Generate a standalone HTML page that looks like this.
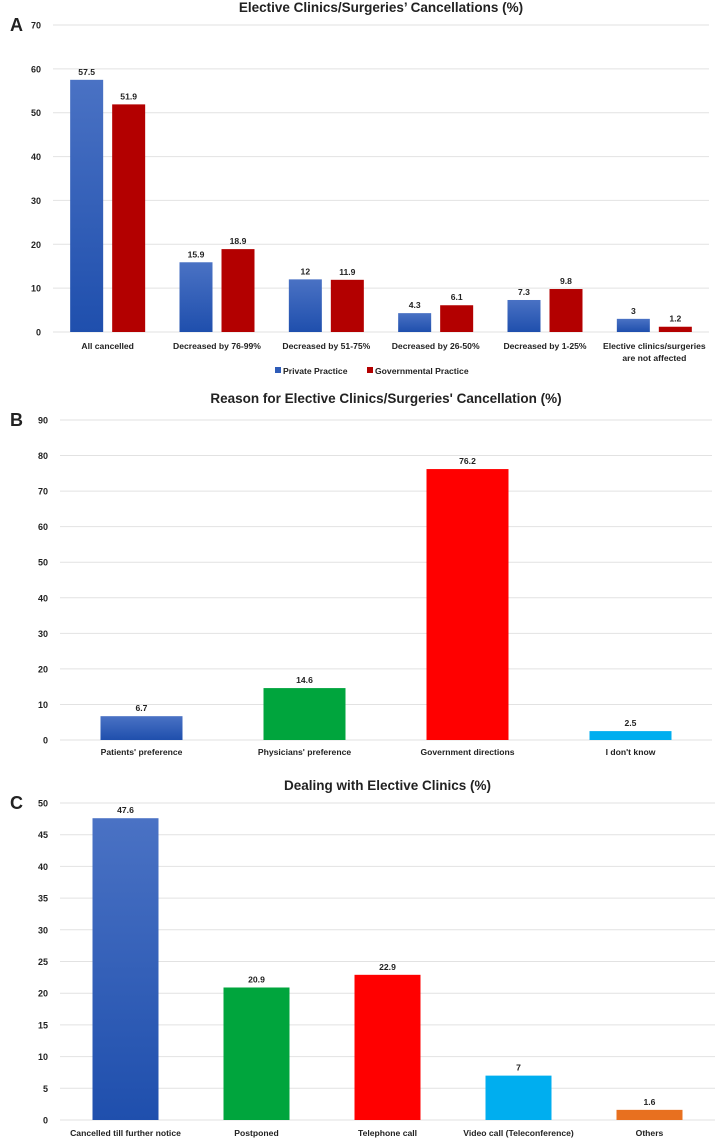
<!DOCTYPE html>
<html><head><meta charset="utf-8"><style>
body{margin:0;background:#fff;}
svg{display:block;font-family:"Liberation Sans",Arial,sans-serif;}
text{font-weight:bold;fill:#222;}
</style></head><body>
<svg id="c" width="716" height="1141" viewBox="0 0 716 1141">
<defs>
<linearGradient id="gb" x1="0" y1="0" x2="0" y2="1"><stop offset="0" stop-color="#4a72c4"/><stop offset="1" stop-color="#1f4fad"/></linearGradient>
</defs>
</svg>
<script>
const NS='http://www.w3.org/2000/svg';
const svg=document.getElementById('c');
function el(t,a,txt){const e=document.createElementNS(NS,t);for(const k in a)e.setAttribute(k,a[k]);if(txt!==undefined)e.textContent=txt;svg.appendChild(e);return e;}

// Panel A data
const catsA=['All cancelled','Decreased by 76-99%','Decreased by 51-75%','Decreased by 26-50%','Decreased by 1-25%','Elective clinics/surgeries|are not affected'];
const privA=[57.5,15.9,12,4.3,7.3,3];
const govA=[51.9,18.9,11.9,6.1,9.8,1.2];
const ticksA=[0,10,20,30,40,50,60,70];
// Panel B data
const catsB=["Patients' preference","Physicians' preference",'Government directions',"I don't know"];
const valsB=[6.7,14.6,76.2,2.5];
const ticksB=[0,10,20,30,40,50,60,70,80,90];
// Panel C data
const catsC=['Cancelled till further notice','Postponed','Telephone call','Video call (Teleconference)','Others'];
const valsC=[47.6,20.9,22.9,7,1.6];
const ticksC=[0,5,10,15,20,25,30,35,40,45,50];

function axes(p,ticks,letter,title,titleY){
  const y=v=>p.y0-(v/p.max)*(p.y0-p.y1);
  let t=el('text',{x:10,y:p.y1+6,'font-size':18,'font-family':'Liberation Sans'},letter);
  
  
  t=el('text',{x:(p.x0+p.x1)/2,y:titleY,'font-size':13.5,'text-anchor':'middle'},title);
  
  
  ticks.forEach(v=>{
    const g=el('line',{x1:p.x0,x2:p.x1,y1:y(v),y2:y(v),stroke:'#e2e2e2','stroke-width':1});
    
    
    const tl=el('text',{x:p.x0-12,y:y(v)+3.5,'font-size':9,'text-anchor':'end'},v);
    
    
  });
  return y;
}
function catLabel(x,yy,s){
  s.split('|').forEach((ln,i)=>{
    const t=el('text',{x:x,y:yy+i*12,'font-size':8.6,'text-anchor':'middle'},ln);
    
    
  });
}
function valLabel(x,yy,v){
  const t=el('text',{x:x,y:yy-5,'font-size':8.6,'text-anchor':'middle'},v);
  
  
}

// Panel A
{
  const p={x0:53,x1:709,y0:332,y1:25,max:70};
  const y=axes(p,ticksA,'A','Elective Clinics/Surgeries\u2019 Cancellations (%)',12);
  const w=(p.x1-p.x0)/catsA.length;
  catsA.forEach((c,i)=>{
    const cx=p.x0+w*(i+0.5);
    const b1=el('rect',{x:cx-37.5,y:y(privA[i]),width:33,height:p.y0-y(privA[i]),fill:'url(#gb)'});
    
    
    const b2=el('rect',{x:cx+4.5,y:y(govA[i]),width:33,height:p.y0-y(govA[i]),fill:'#b30000'});
    
    
    valLabel(cx-21,y(privA[i]),privA[i]);
    valLabel(cx+21,y(govA[i]),govA[i]);
    catLabel(cx,349,c);
  });
  let r=el('rect',{x:275,y:367,width:6,height:6,fill:'#2e5cb8'});
  
  let t=el('text',{x:283,y:374,'font-size':8.6},'Private Practice');
  
  r=el('rect',{x:367,y:367,width:6,height:6,fill:'#b30000'});
  
  t=el('text',{x:375,y:374,'font-size':8.6},'Governmental Practice');
  
}
// Panel B
{
  const p={x0:60,x1:712,y0:740,y1:420,max:90};
  const y=axes(p,ticksB,'B',"Reason for Elective Clinics/Surgeries' Cancellation (%)",403);
  const cols=['url(#gb)','#00a53d','#ff0000','#00aeef'];
  const w=(p.x1-p.x0)/catsB.length;
  catsB.forEach((c,i)=>{
    const cx=p.x0+w*(i+0.5);
    const b=el('rect',{x:cx-41,y:y(valsB[i]),width:82,height:p.y0-y(valsB[i]),fill:cols[i]});
    
    
    valLabel(cx,y(valsB[i]),valsB[i]);
    catLabel(cx,755,c);
  });
}
// Panel C
{
  const p={x0:60,x1:715,y0:1120,y1:803,max:50};
  const y=axes(p,ticksC,'C','Dealing with Elective Clinics (%)',790);
  const cols=['url(#gb)','#00a53d','#ff0000','#00aeef','#e8701f'];
  const w=(p.x1-p.x0)/catsC.length;
  catsC.forEach((c,i)=>{
    const cx=p.x0+w*(i+0.5);
    const b=el('rect',{x:cx-33,y:y(valsC[i]),width:66,height:p.y0-y(valsC[i]),fill:cols[i]});
    
    
    valLabel(cx,y(valsC[i]),valsC[i]);
    catLabel(cx,1136,c);
  });
}
</script>
</body></html>
